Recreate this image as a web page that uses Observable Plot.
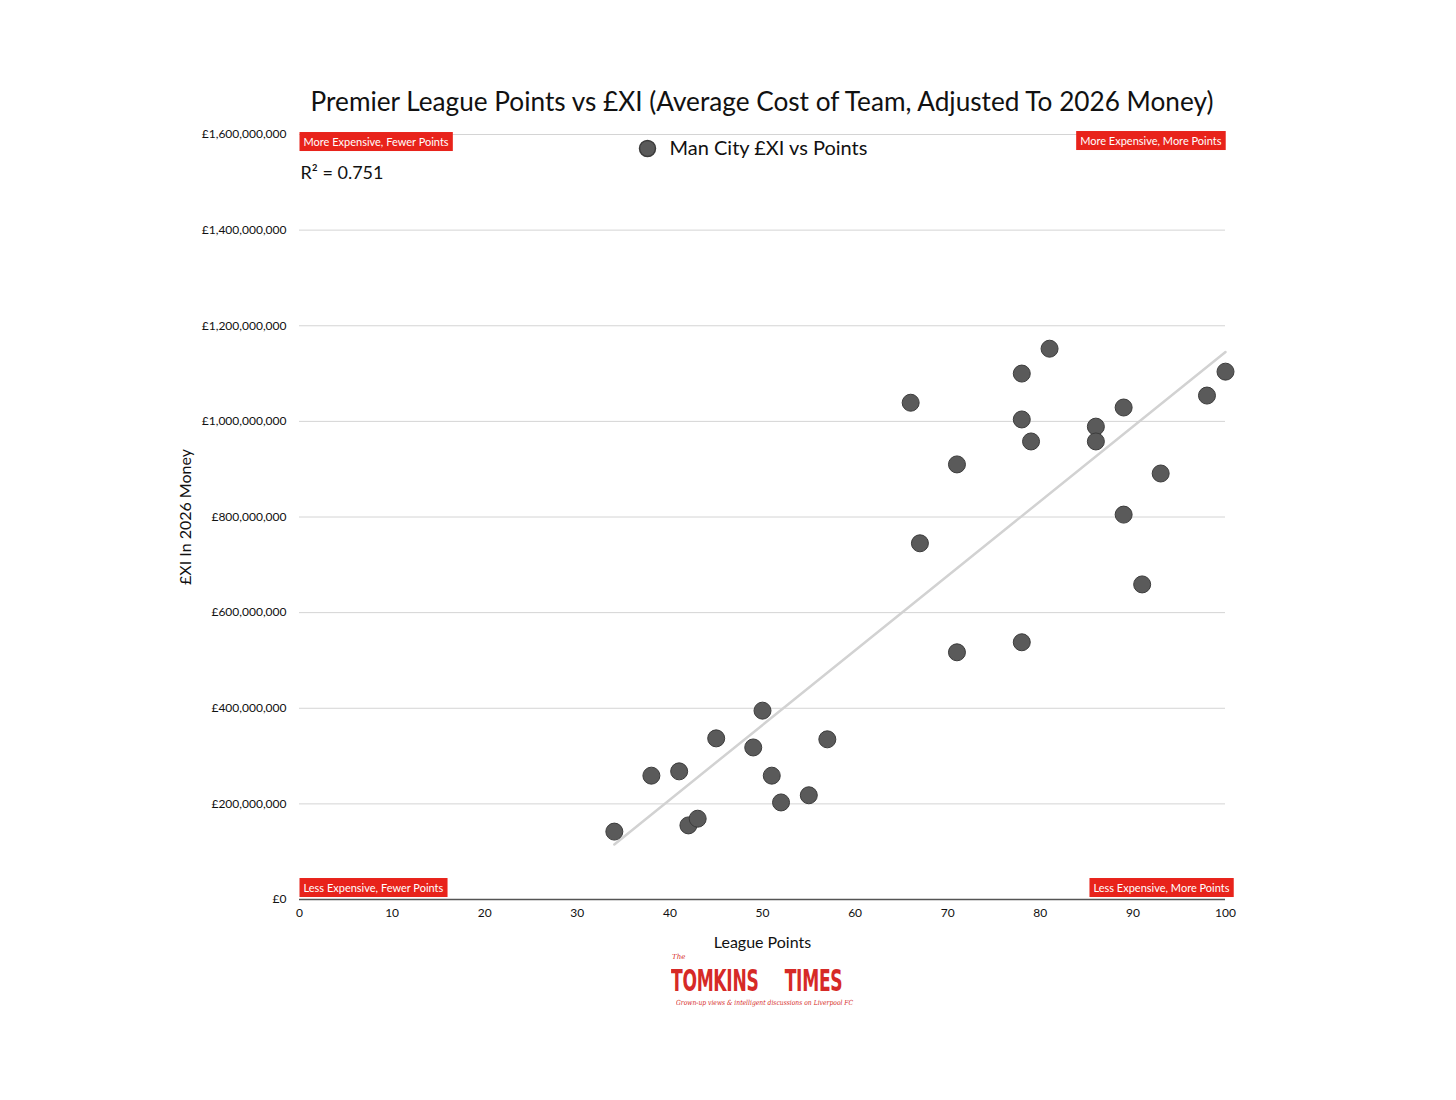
<!DOCTYPE html>
<html>
<head>
<meta charset="utf-8">
<script src="https://cdn.jsdelivr.net/npm/d3@7"></script>
<script src="https://cdn.jsdelivr.net/npm/@observablehq/plot@0.6"></script>
<style>
  html, body { margin: 0; padding: 0; background: #fff; }
  #wrap { position: relative; width: 1456px; height: 1100px; font-family: Lato, "Noto Sans", sans-serif; }
  #chart { position: absolute; left: 0; top: 0; z-index: 1; }
  #title { position: absolute; left: 299px; width: 926px; top: 84px; text-align: center; font-size: 26.2px; line-height: 34px; color: #111; z-index: 2; white-space: nowrap; }
  #logo { position: absolute; left: 660px; top: 958px; width: 220px; height: 60px; color: #d62a27; z-index: 2; }
  #logo .the { position: absolute; left: 12px; top: -5px; font-family: "DejaVu Serif", serif; font-style: italic; font-size: 7px; line-height: 8px; }
  #logo .main { position: absolute; left: 11px; top: 11px; font-family: "DejaVu Sans", sans-serif; font-weight: bold; font-size: 30px; line-height: 24px; white-space: nowrap; transform: scaleX(0.57); transform-origin: 0 0; letter-spacing: -0.5px; }
  #logo .tag { position: absolute; left: 16px; top: 41px; font-family: "DejaVu Serif", serif; font-style: italic; font-size: 7px; white-space: nowrap; transform: scaleX(0.86); transform-origin: 0 0; }
</style>
</head>
<body>
<div id="wrap">
  <div id="title">Premier League Points vs £XI (Average Cost of Team, Adjusted To 2026 Money)</div>
  <div id="chart"></div>
  <div id="logo">
    <span class="main">TOMKINS<span style="display:inline-block;width:46px"></span>TIMES</span>
    <span class="the">The</span>
    <span class="tag">Grown-up views &amp; intelligent discussions on Liverpool FC</span>
  </div>
</div>
<script>
// League points per season
const points = [34, 38, 41, 42, 43, 45, 49, 50, 51, 52, 55, 57, 66, 67, 71, 71, 78, 78, 78, 79, 81, 86, 86, 89, 89, 91, 93, 98, 100];
// Average £XI cost (2026 money)
const cost = [142e6, 259e6, 268e6, 155e6, 169e6, 337e6, 318e6, 395e6, 259e6, 203e6, 218e6, 335e6, 1039e6, 745e6, 910e6, 517e6, 1100e6, 1004e6, 538e6, 958e6, 1152e6, 989e6, 958e6, 1029e6, 805e6, 659e6, 891e6, 1054e6, 1104e6];
const xTicks = [0, 10, 20, 30, 40, 50, 60, 70, 80, 90, 100];
const yTicks = [0, 2e8, 4e8, 6e8, 8e8, 1e9, 1.2e9, 1.4e9, 1.6e9];
const legendLabel = "Man City £XI vs Points";
const r2Label = "R² = 0.751";
const quadLabels = ["More Expensive, Fewer Points", "More Expensive, More Points", "Less Expensive, Fewer Points", "Less Expensive, More Points"];

const data = points.map((p, i) => ({points: p, cost: cost[i]}));
const fmt = d => "£" + d3.format(",")(d);

const quadStyle = {fill: "white", fontSize: 11, lineAnchor: "middle", fontFamily: "Lato, 'Noto Sans', sans-serif"};

const chart = Plot.plot({
  width: 1456,
  height: 960,
  marginLeft: 299,
  marginRight: 231,
  marginTop: 134,
  marginBottom: 61,
  style: {fontFamily: "Lato, 'Noto Sans', sans-serif", color: "#111", background: "transparent"},
  x: {domain: [0, 100]},
  y: {domain: [0, 1.6e9]},
  marks: [
    Plot.gridY(yTicks.filter(d => d > 0), {stroke: "#d4d4d4", strokeOpacity: 1, strokeWidth: 1}),
    Plot.ruleY([0], {stroke: "#555", strokeWidth: 1.5}),
    Plot.axisX(xTicks, {tickSize: 0, tickPadding: 9, fontSize: 12, label: null}),
    Plot.axisY(yTicks, {tickSize: 0, tickPadding: 13, fontSize: 12, tickFormat: fmt, label: null}),
    Plot.linearRegressionY(data, {x: "points", y: "cost", ci: 0, stroke: "#d2d2d2", strokeWidth: 2.5}),
    Plot.dot(data, {x: "points", y: "cost", r: 8.5, fill: "#5a5a5a", stroke: "#3c3c3c", strokeWidth: 1}),
    // axis titles
    Plot.text(["League Points"], {frameAnchor: "bottom", dy: 43, lineAnchor: "middle", fontSize: 16, fill: "#111"}),
    Plot.text(["£XI In 2026 Money"], {frameAnchor: "left", dx: -114, rotate: -90, textAnchor: "middle", lineAnchor: "middle", fontSize: 16, fill: "#111"}),
    // legend
    Plot.dot([legendLabel], {frameAnchor: "top", dx: -115, dy: 14, r: 8, fill: "#5a5a5a", stroke: "#3c3c3c"}),
    Plot.text([legendLabel], {frameAnchor: "top", dx: -93, dy: 14, textAnchor: "start", lineAnchor: "middle", fontSize: 20, fill: "#111"}),
    // R squared
    Plot.text([r2Label], {frameAnchor: "top-left", dx: 1, dy: 39, textAnchor: "start", lineAnchor: "middle", fontSize: 18, fill: "#111"}),
    // quadrant labels
    Plot.text([quadLabels[0]], {...quadStyle, frameAnchor: "top-left", dx: 4, dy: 8, textAnchor: "start"}),
    Plot.text([quadLabels[1]], {...quadStyle, frameAnchor: "top-right", dx: -4, dy: 7, textAnchor: "end"}),
    Plot.text([quadLabels[2]], {...quadStyle, frameAnchor: "bottom-left", dx: 4, dy: -11, textAnchor: "start"}),
    Plot.text([quadLabels[3]], {...quadStyle, frameAnchor: "bottom-right", dx: 4, dy: -11, textAnchor: "end"})
  ]
});
document.getElementById("chart").appendChild(chart);

// red boxes behind quadrant labels
d3.select(chart).selectAll("text").filter(function() { return quadLabels.includes(this.textContent); })
  .each(function() {
    const b = this.getBBox();
    const t = this.getAttribute("transform");
    const rect = document.createElementNS("http://www.w3.org/2000/svg", "rect");
    rect.setAttribute("x", b.x - 4);
    rect.setAttribute("y", b.y - 3);
    rect.setAttribute("width", b.width + 8);
    rect.setAttribute("height", b.height + 6);
    rect.setAttribute("fill", "#e8231b");
    if (t) rect.setAttribute("transform", t);
    this.parentNode.insertBefore(rect, this);
  });
</script>
</body>
</html>
